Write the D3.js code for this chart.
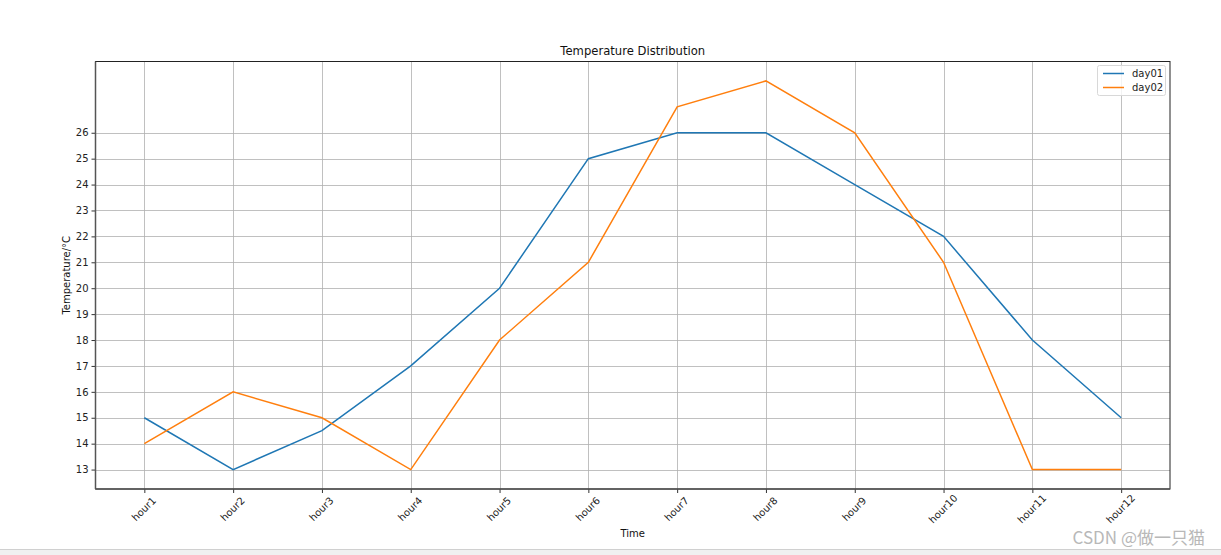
<!DOCTYPE html>
<html><head><meta charset="utf-8">
<script src="https://cdn.jsdelivr.net/npm/d3@7/dist/d3.min.js"></script>
<style>body{margin:0;background:#fff;overflow:hidden}svg{display:block}</style>
</head><body>
<svg id="c" width="1221" height="555"></svg>
<script>
const categories = ["hour1","hour2","hour3","hour4","hour5","hour6","hour7","hour8","hour9","hour10","hour11","hour12"];
const day01 = [15,13,14.5,17,20,25,26,26,24,22,18,15];
const day02 = [14,16,15,13,18,21,27,28,26,21,13,13];
const yTicks = [13,14,15,16,17,18,19,20,21,22,23,24,25,26];
const seriesNames = ["day01","day02"];
const colors = ["#1f77b4","#ff7f0e"];

const svg = d3.select("#c");
const L = 95.5, R = 1170, T = 61.5, B = 489;
const font = "DejaVu Sans, sans-serif";

const x = d3.scaleLinear().domain([-0.55, categories.length - 1 + 0.55]).range([L, R]);
const y = d3.scaleLinear().domain([12.25, 28.75]).range([B, T]);

// bottom strip
svg.append("rect").attr("x",0).attr("y",549).attr("width",1221).attr("height",6).attr("fill","#f0f0f0");
svg.append("line").attr("x1",0).attr("x2",1221).attr("y1",549.5).attr("y2",549.5).attr("stroke","#d0d0d0");

// grid
const g = svg.append("g");
g.selectAll(".vg").data(categories).join("line")
  .attr("x1",(d,i)=>Math.round(x(i))+0.5).attr("x2",(d,i)=>Math.round(x(i))+0.5)
  .attr("y1",T).attr("y2",B).attr("stroke","#b0b0b0").attr("stroke-width",0.8);
g.selectAll(".hg").data(yTicks).join("line")
  .attr("x1",L).attr("x2",R)
  .attr("y1",d=>Math.round(y(d))+0.5).attr("y2",d=>Math.round(y(d))+0.5)
  .attr("stroke","#b0b0b0").attr("stroke-width",0.8);

// axes
const xAxis = d3.axisBottom(x).tickValues(categories.map((d,i)=>i)).tickFormat(i=>categories[i]).tickSize(4).tickPadding(3);
const xa = svg.append("g").attr("transform",`translate(0,${B})`).call(xAxis);
xa.select(".domain").remove();
xa.selectAll("line").attr("stroke","#333");
xa.selectAll("text").attr("font-family",font).attr("font-size",10).attr("fill","#222")
  .attr("text-anchor","middle").attr("dy",null)
  .attr("transform",`translate(-1,20) rotate(-45)`)
  .attr("y",0).attr("dominant-baseline","central");

const yAxis = d3.axisLeft(y).tickValues(yTicks).tickSize(4).tickPadding(3);
const ya = svg.append("g").attr("transform",`translate(${L},0)`).call(yAxis);
ya.select(".domain").remove();
ya.selectAll("line").attr("stroke","#333");
ya.selectAll("text").attr("font-family",font).attr("font-size",10).attr("fill","#222");

// lines
const line = d3.line().x((d,i)=>x(i)).y(d=>y(d));
[day01, day02].forEach((s,k)=>{
  svg.append("path").datum(s).attr("d",line).attr("fill","none")
    .attr("stroke",colors[k]).attr("stroke-width",1.5).attr("stroke-linejoin","miter");
});

// spines
svg.append("rect").attr("x",L).attr("y",T).attr("width",R-L).attr("height",B-T)
  .attr("fill","none").attr("stroke","#222").attr("stroke-width",1);
svg.append("line").attr("x1",L).attr("x2",L).attr("y1",T).attr("y2",B).attr("stroke","#555").attr("stroke-width",1.5);
svg.append("line").attr("x1",L).attr("x2",R).attr("y1",B).attr("y2",B).attr("stroke","#555").attr("stroke-width",1.5);

// title & labels
svg.append("text").attr("x",(L+R)/2).attr("y",55).attr("text-anchor","middle")
  .attr("font-family",font).attr("font-size",11.6).attr("fill","#111").text("Temperature Distribution");
svg.append("text").attr("x",(L+R)/2).attr("y",537).attr("text-anchor","middle")
  .attr("font-family",font).attr("font-size",10).attr("fill","#111").text("Time");
svg.append("text").attr("transform",`translate(70,${(T+B)/2}) rotate(-90)`).attr("text-anchor","middle")
  .attr("font-family",font).attr("font-size",10).attr("fill","#111").text("Temperature/°C");

// legend
const lg = svg.append("g");
lg.append("rect").attr("x",1097.5).attr("y",65.5).attr("width",68).attr("height",30).attr("rx",2)
  .attr("fill","#fff").attr("fill-opacity",0.8).attr("stroke","#d8d8d8");
seriesNames.forEach((n,k)=>{
  const yy = 73.5 + k*14;
  lg.append("line").attr("x1",1103).attr("x2",1124).attr("y1",yy).attr("y2",yy).attr("stroke",colors[k]).attr("stroke-width",1.5);
  lg.append("text").attr("x",1132).attr("y",yy+3.5).attr("font-family",font).attr("font-size",10).attr("fill","#222").text(n);
});

// watermark
svg.append("text").attr("x",1205).attr("y",544).attr("text-anchor","end")
  .attr("font-family","Noto Sans CJK SC, sans-serif").attr("font-size",17).attr("fill","#b8b8b8").text("CSDN @做一只猫");
</script>
</body></html>
